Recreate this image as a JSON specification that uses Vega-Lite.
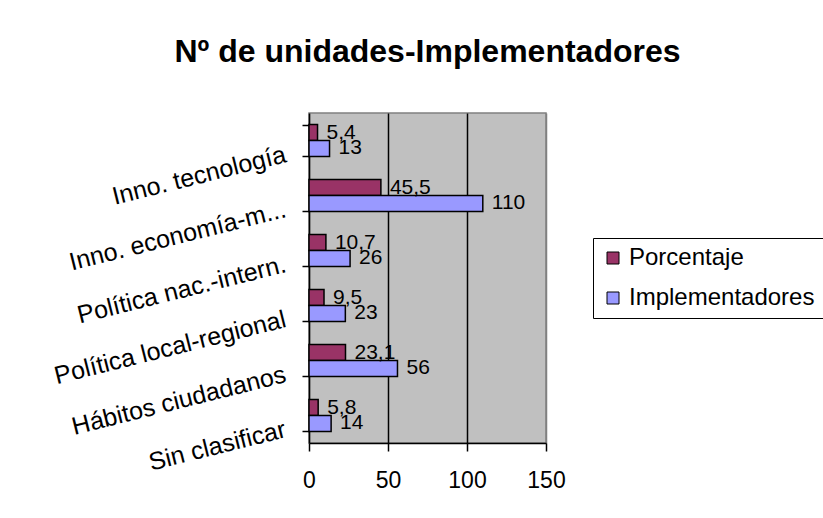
{
  "$schema": "https://vega.github.io/schema/vega-lite/v6.json",
  "width": 237,
  "height": 330,
  "autosize": {"type": "none"},
  "padding": {"left": 309, "top": 113, "right": 277, "bottom": 75},
  "background": "white",
  "title": {
    "text": "Nº de unidades-Implementadores",
    "font": "Liberation Sans",
    "fontSize": 32,
    "fontWeight": "bold",
    "color": "black",
    "anchor": "middle",
    "frame": "group",
    "baseline": "alphabetic",
    "offset": 7
  },
  "data": {
    "values": [
      {"categoria": "Inno. tecnología", "serie": "Porcentaje", "valor": 5.4},
      {"categoria": "Inno. tecnología", "serie": "Implementadores", "valor": 13},
      {"categoria": "Inno. economía-m...", "serie": "Porcentaje", "valor": 45.5},
      {"categoria": "Inno. economía-m...", "serie": "Implementadores", "valor": 110},
      {"categoria": "Política nac.-intern.", "serie": "Porcentaje", "valor": 10.7},
      {"categoria": "Política nac.-intern.", "serie": "Implementadores", "valor": 26},
      {"categoria": "Política local-regional", "serie": "Porcentaje", "valor": 9.5},
      {"categoria": "Política local-regional", "serie": "Implementadores", "valor": 23},
      {"categoria": "Hábitos ciudadanos", "serie": "Porcentaje", "valor": 23.1},
      {"categoria": "Hábitos ciudadanos", "serie": "Implementadores", "valor": 56},
      {"categoria": "Sin clasificar", "serie": "Porcentaje", "valor": 5.8},
      {"categoria": "Sin clasificar", "serie": "Implementadores", "valor": 14}
    ]
  },
  "encoding": {
    "y": {
      "field": "categoria",
      "type": "nominal",
      "sort": ["Inno. tecnología", "Inno. economía-m...", "Política nac.-intern.", "Política local-regional", "Hábitos ciudadanos", "Sin clasificar"],
      "scale": {"paddingInner": 0.42, "paddingOuter": 0.21},
      "axis": {
        "title": null,
        "labelFont": "Liberation Sans",
        "labelFontSize": 25,
        "labelColor": "black",
        "labelAngle": -14,
        "labelAlign": "right",
        "labelBaseline": "middle",
        "labelOffset": 13,
        "labelPadding": 17,
        "labelLimit": 400,
        "tickBand": "extent",
        "tickSize": 7,
        "tickColor": "black",
        "tickWidth": 1.5,
        "domainColor": "black",
        "domainWidth": 1.5,
        "grid": false
      }
    },
    "yOffset": {
      "field": "serie",
      "type": "nominal",
      "sort": ["Porcentaje", "Implementadores"]
    },
    "x": {
      "field": "valor",
      "type": "quantitative",
      "scale": {"domain": [0, 150], "nice": false},
      "axis": {
        "title": null,
        "values": [0, 50, 100, 150],
        "labelFont": "Liberation Sans",
        "labelFontSize": 23,
        "labelColor": "black",
        "labelFlush": false,
        "labelPadding": 18,
        "tickSize": 8,
        "tickColor": "black",
        "tickWidth": 1.5,
        "domainColor": "black",
        "domainWidth": 1.5,
        "grid": true,
        "gridColor": {"condition": {"test": "datum.value == 150 || datum.value == 0", "value": "#808080"}, "value": "black"},
        "gridWidth": 1.5,
        "gridOpacity": 1
      }
    }
  },
  "layer": [
    {
      "mark": {"type": "bar", "stroke": "black", "strokeWidth": 1.5},
      "encoding": {
        "color": {
          "field": "serie",
          "type": "nominal",
          "scale": {"domain": ["Porcentaje", "Implementadores"], "range": ["#993366", "#9999FF"]},
          "legend": {
            "title": null,
            "orient": "none",
            "legendX": 284,
            "legendY": 125,
            "fillColor": "white",
            "strokeColor": "black",
            "padding": 8,
            "labelFont": "Liberation Sans",
            "labelFontSize": 24,
            "labelColor": "black",
            "labelOffset": 4,
            "labelLimit": 400,
            "symbolType": "square",
            "symbolSize": 144,
            "symbolStrokeColor": "black",
            "symbolStrokeWidth": 1,
            "rowPadding": 16
          }
        }
      }
    },
    {
      "mark": {"type": "text", "align": "left", "baseline": "middle", "dx": 9, "font": "Liberation Sans", "fontSize": 21, "color": "black"},
      "encoding": {
        "text": {"field": "valor", "type": "quantitative", "format": "~g"}
      }
    }
  ],
  "config": {
    "view": {"stroke": "#808080", "strokeWidth": 1.5, "fill": "#C0C0C0"},
    "locale": {"number": {"decimal": ",", "thousands": ".", "grouping": [3], "currency": ["", " €"]}}
  }
}
